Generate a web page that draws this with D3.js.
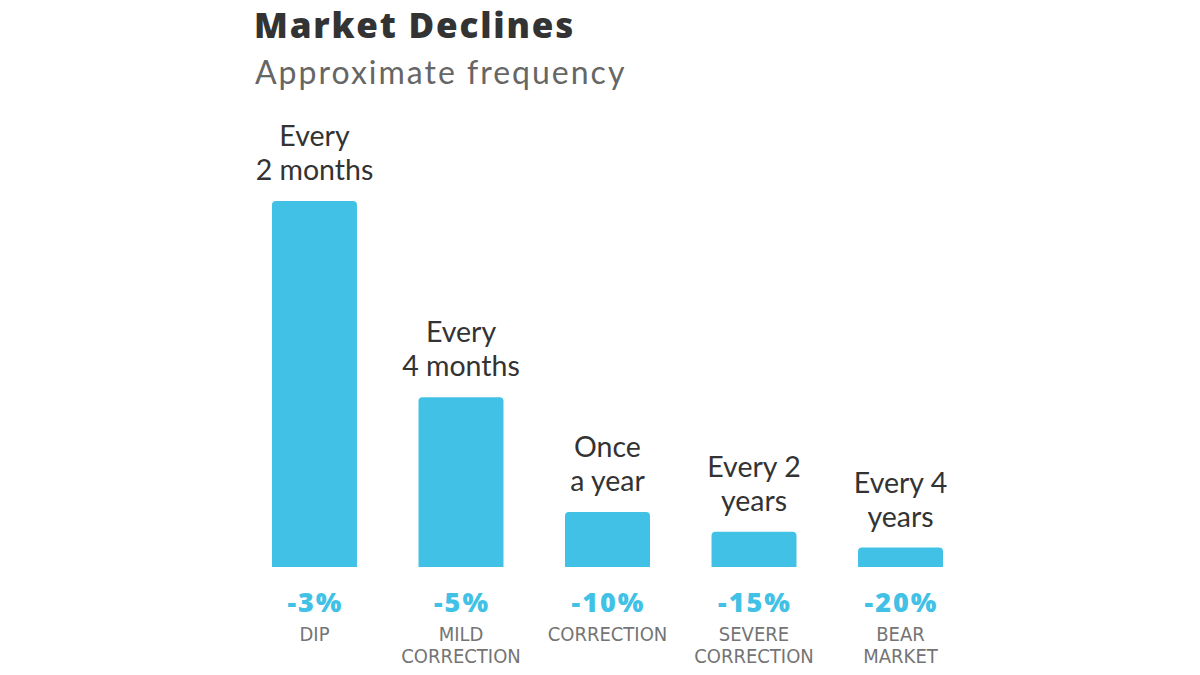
<!DOCTYPE html>
<html>
<head>
<meta charset="utf-8">
<script src="https://cdn.jsdelivr.net/npm/d3@7"></script>
<style>
  body { margin: 0; background: #fff; }
  svg { display: block; }
</style>
</head>
<body>
<svg id="chart" width="1200" height="675"></svg>
<script>
// data (bar length in relative units, tallest = 100)
const declines = ["-3%", "-5%", "-10%", "-15%", "-20%"]
const categories = [["DIP"], ["MILD", "CORRECTION"], ["CORRECTION"], ["SEVERE", "CORRECTION"], ["BEAR", "MARKET"]]
const frequencies = [["Every", "2 months"], ["Every", "4 months"], ["Once", "a year"], ["Every 2", "years"], ["Every 4", "years"]]
const barValues = [100, 46.4, 15, 9.6, 5.3]

const svg = d3.select("#chart")
const blue = "#41c1e5"
const base = 567

const x = d3.scaleBand()
    .domain(d3.range(barValues.length))
    .range([272, 943])
    .paddingInner(0.42)
    .paddingOuter(0)

const y = d3.scaleLinear()
    .domain([0, 100])
    .range([base, 201])

// titles
svg.append("text")
    .attr("x", 254).attr("y", 38)
    .attr("font-family", "Open Sans").attr("font-weight", 800)
    .attr("font-size", 35).attr("fill", "#333")
    .attr("letter-spacing", 1.8)
    .text("Market Declines")

svg.append("text")
    .attr("x", 255).attr("y", 84)
    .attr("font-family", "Lato").attr("font-weight", 400)
    .attr("font-size", 32).attr("fill", "#666")
    .attr("letter-spacing", 2)
    .text("Approximate frequency")

// bars, rounded top corners only
const r = 4
const bars = svg.selectAll("g.bar")
    .data(barValues)
    .enter()
    .append("g")
    .attr("class", "bar")

bars.append("path")
    .attr("fill", blue)
    .attr("d", (d, i) => {
        const x0 = x(i), w = x.bandwidth(), top = y(d)
        return `M${x0},${base} V${top + r} Q${x0},${top} ${x0 + r},${top} H${x0 + w - r} Q${x0 + w},${top} ${x0 + w},${top + r} V${base} Z`
    })

// frequency labels above bars
bars.append("text")
    .attr("text-anchor", "middle")
    .attr("font-family", "Lato").attr("font-size", 28.5).attr("fill", "#333")
    .each(function(d, i) {
        const cx = x(i) + x.bandwidth() / 2
        const lines = frequencies[i]
        const last = y(d) - 21
        d3.select(this).selectAll("tspan")
            .data(lines)
            .enter()
            .append("tspan")
            .attr("x", cx)
            .attr("y", (l, j) => last - (lines.length - 1 - j) * 34)
            .text(l => l)
    })

// percentages
bars.append("text")
    .attr("x", (d, i) => x(i) + x.bandwidth() / 2 + 1)
    .attr("y", 612)
    .attr("text-anchor", "middle")
    .attr("font-family", "Open Sans").attr("font-weight", 800)
    .attr("font-size", 27).attr("fill", blue)
    .attr("letter-spacing", 2)
    .text((d, i) => declines[i])

// category names
bars.append("text")
    .attr("text-anchor", "middle")
    .attr("font-family", "DejaVu Sans Condensed, DejaVu Sans").attr("font-stretch", "condensed")
    .attr("font-size", 20).attr("fill", "#747474")
    .each(function(d, i) {
        const cx = x(i) + x.bandwidth() / 2
        d3.select(this).selectAll("tspan")
            .data(categories[i])
            .enter()
            .append("tspan")
            .attr("x", cx)
            .attr("y", (l, j) => 641 + j * 22)
            .text(l => l)
    })
</script>
</body>
</html>
